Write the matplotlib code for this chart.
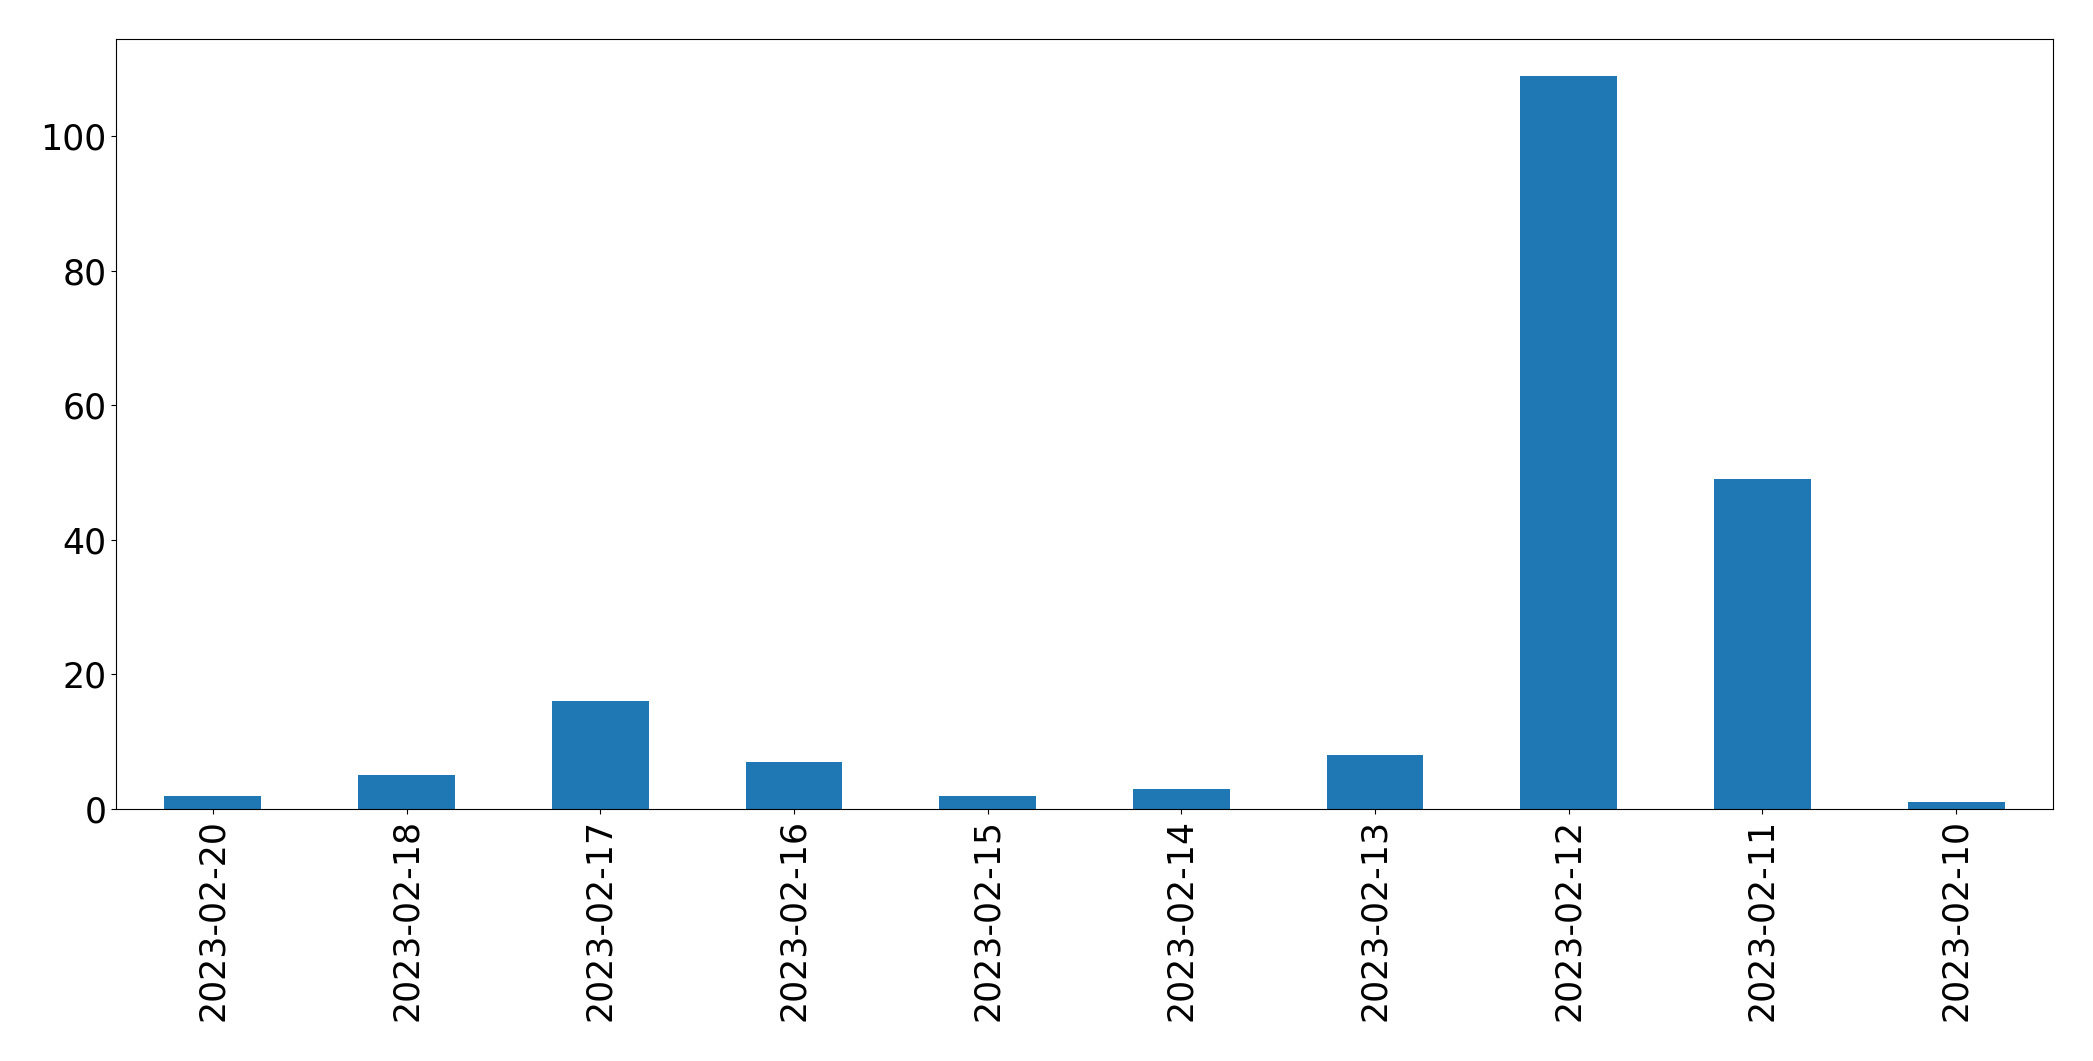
import matplotlib
matplotlib.use("Agg")
import matplotlib.pyplot as plt

dates = ["2023-02-20", "2023-02-18", "2023-02-17", "2023-02-16", "2023-02-15",
         "2023-02-14", "2023-02-13", "2023-02-12", "2023-02-11", "2023-02-10"]
counts = [2, 5, 16, 7, 2, 3, 8, 109, 49, 1]

fig = plt.figure(figsize=(20.93, 10.61), dpi=100)
ax = fig.add_axes([116/2093, 1-809/1061, (2053-116)/2093, (809-39)/1061])
x = list(range(len(dates)))
ax.bar(x, counts, width=0.5, color="#1f77b4")
ax.set_xlim(-0.5, len(dates) - 0.5)
ax.set_ylim(0, max(counts) * 1.05)
ax.set_xticks(x)
ax.set_xticklabels(dates, rotation=90)
ax.tick_params(axis="both", labelsize=25)
fig.savefig("out.png", dpi=100)
